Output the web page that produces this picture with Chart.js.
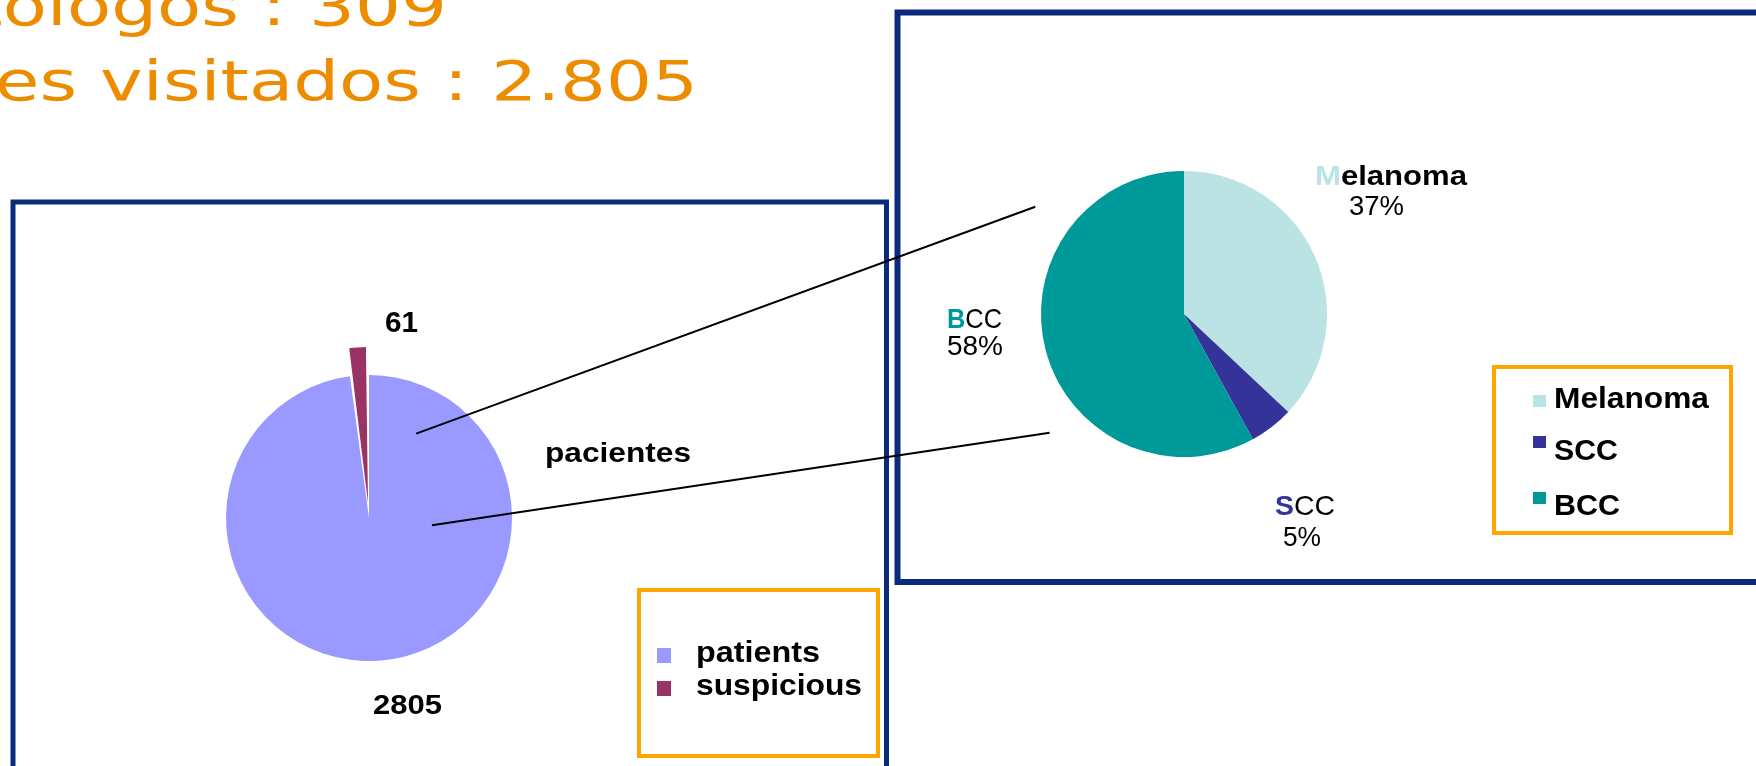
<!DOCTYPE html>
<html><head><meta charset="utf-8">
<script src="https://cdn.jsdelivr.net/npm/chart.js@4/dist/chart.umd.min.js"></script>
<style>
html,body{margin:0;padding:0;background:#fff;overflow:hidden}
#wrap{position:relative;width:1756px;height:766px}
canvas{position:absolute;left:0;top:0}
</style></head><body>
<div id="wrap"><canvas id="c1" width="1756" height="766"></canvas><canvas id="c2" width="1756" height="766"></canvas></div>
<script>
// ---- data ----
const titleLines = ['Dermatólogos : 309', 'Pacientes visitados : 2.805'];
const patientLabels = ['patients', 'suspicious'];
const patientValues = [2805, 61];
const patientColors = ['#9999ff', '#993366'];
const connectorLabel = 'pacientes';
const tumorLabels = ['Melanoma', 'SCC', 'BCC'];
const tumorValues = [37, 5, 58];
const tumorColors = ['#bce3e3', '#333399', '#009999'];

const ARIAL = '"Liberation Sans", Arial, sans-serif';
const VERD = '"DejaVu Sans", Verdana, sans-serif';
const NAVY = '#0a2b7b';
const ORANGE = '#ffa500';

function drawParts(ctx, parts, x, y, w) {
  let total = 0;
  parts.forEach(p => { ctx.font = p.font; p.w = ctx.measureText(p.t).width; total += p.w; });
  const s = w ? w / total : 1;
  ctx.save();
  ctx.translate(x, y); ctx.scale(s, 1);
  ctx.textAlign = 'left'; ctx.textBaseline = 'alphabetic';
  let cx = 0;
  parts.forEach(p => { ctx.font = p.font; ctx.fillStyle = p.color; ctx.fillText(p.t, cx, 0); cx += p.w; });
  ctx.restore();
}

const bgPlugin = {
  id: 'bg',
  beforeDraw(chart) {
    const ctx = chart.ctx;
    ctx.save();
    ctx.fillStyle = '#fff'; ctx.fillRect(0, 0, chart.width, chart.height);
    // title (cropped at the left edge like the reference)
    const tf = '56px ' + VERD;
    ctx.font = tf;
    const vis = 'es visitados : 2.805';
    const s = 703 / ctx.measureText(vis).width;
    const w1 = ctx.measureText(titleLines[0]).width * s;
    const w2 = ctx.measureText(titleLines[1]).width * s;
    drawParts(ctx, [{t: titleLines[0], font: tf, color: '#ee8c00'}], 447 - w1, 25, w1);
    drawParts(ctx, [{t: titleLines[1], font: tf, color: '#ee8c00'}], 698 - w2, 100, w2);
    // frames
    ctx.strokeStyle = NAVY;
    ctx.lineWidth = 5; ctx.strokeRect(13, 202, 873.5, 700);
    ctx.lineWidth = 6; ctx.strokeRect(897.5, 12.5, 1000, 569.5);
    ctx.strokeStyle = ORANGE; ctx.lineWidth = 4;
    ctx.strokeRect(639, 590, 239, 166);
    ctx.strokeRect(1494, 367, 237, 166);
    ctx.restore();
  },
  afterDraw(chart) {
    const ctx = chart.ctx;
    const b = 'bold 28px ' + ARIAL;
    drawParts(ctx, [{t: String(patientValues[1]), font: 'bold 30px ' + ARIAL, color: '#000'}], 385, 332, 33);
    drawParts(ctx, [{t: String(patientValues[0]), font: b, color: '#000'}], 373, 714, 69);
    drawParts(ctx, [{t: connectorLabel, font: b, color: '#000'}], 545, 462, 146);
    // legend
    const ly = [648, 681], lb = [662, 695], lw = [124, 166];
    patientLabels.forEach((l, i) => {
      ctx.fillStyle = patientColors[i];
      ctx.fillRect(657, ly[i], 14, 15);
      drawParts(ctx, [{t: l, font: 'bold 30px ' + ARIAL, color: '#000'}], 696, lb[i], lw[i]);
    });
  }
};

const chart1 = new Chart(document.getElementById('c1'), {
  type: 'pie',
  data: { labels: patientLabels, datasets: [{ data: patientValues, backgroundColor: patientColors, borderWidth: 0, offset: [0, 60] }] },
  options: {
    responsive: false, devicePixelRatio: 1, animation: false, events: [],
    radius: 143,
    layout: { padding: { left: 169, right: 1756 - 569, top: 318, bottom: 766 - 718 } },
    plugins: { legend: { display: false }, tooltip: { enabled: false } }
  },
  plugins: [bgPlugin]
});

const fgPlugin = {
  id: 'fg',
  afterDraw(chart) {
    const ctx = chart.ctx;
    const total = tumorValues.reduce((a, v) => a + v, 0);
    const pct = tumorValues.map(v => Math.round(v / total * 100) + '%');
    const bold = 'bold 28px ' + ARIAL, norm = '28px ' + ARIAL;
    // slice labels: [nameX, nameBaseline, nameWidth, pctX, pctBaseline, pctWidth, restWeight]
    const pos = [
      [1315, 185, 152, 1349, 215, 55, bold],
      [1275, 515, 60, 1283, 546, 38, norm],
      [947, 328, 55, 947, 355, 56, norm]
    ];
    tumorLabels.forEach((l, i) => {
      const p = pos[i];
      drawParts(ctx, [{t: l[0], font: bold, color: tumorColors[i]}, {t: l.slice(1), font: p[6], color: '#000'}], p[0], p[1], p[2]);
      drawParts(ctx, [{t: pct[i], font: norm, color: '#000'}], p[3], p[4], p[5]);
    });
    // legend
    const sy = [395, 436, 492], tb = [408, 460, 515], tw = [155, 64, 66];
    tumorLabels.forEach((l, i) => {
      ctx.fillStyle = tumorColors[i];
      ctx.fillRect(1533, sy[i], 13, 12);
      drawParts(ctx, [{t: l, font: 'bold 29px ' + ARIAL, color: '#000'}], 1554, tb[i], tw[i]);
    });
    // connector lines from the left pie to the right pie
    const a = chart1.getDatasetMeta(0).data[0];
    const r1 = a.outerRadius;
    const c = chart.getDatasetMeta(0).data[0];
    const r2 = c.outerRadius;
    ctx.save();
    ctx.strokeStyle = '#000'; ctx.lineWidth = 2;
    ctx.beginPath();
    ctx.moveTo(a.x + 0.33 * r1, a.y - 0.59 * r1); ctx.lineTo(c.x - 1.04 * r2, c.y - 0.75 * r2);
    ctx.moveTo(a.x + 0.44 * r1, a.y + 0.05 * r1); ctx.lineTo(c.x - 0.94 * r2, c.y + 0.83 * r2);
    ctx.stroke();
    ctx.restore();
  }
};

const chart2 = new Chart(document.getElementById('c2'), {
  type: 'pie',
  data: { labels: tumorLabels, datasets: [{ data: tumorValues, backgroundColor: tumorColors, borderWidth: 0 }] },
  options: {
    responsive: false, devicePixelRatio: 1, animation: false, events: [],
    radius: 143,
    layout: { padding: { left: 984, right: 1756 - 1384, top: 114, bottom: 766 - 514 } },
    plugins: { legend: { display: false }, tooltip: { enabled: false } }
  },
  plugins: [fgPlugin]
});
</script>
</body></html>
